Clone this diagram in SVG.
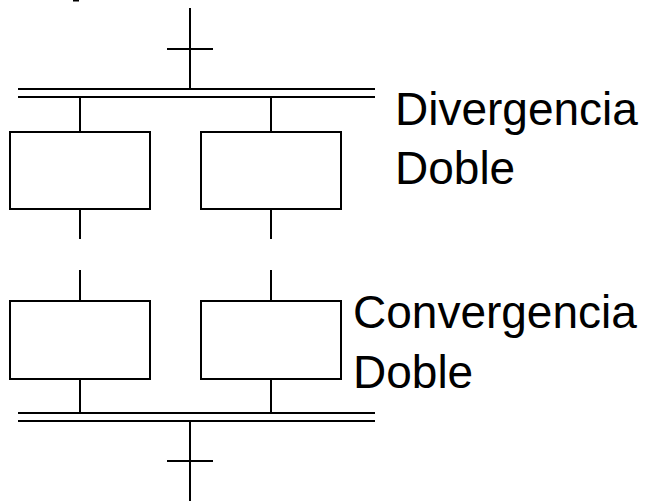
<svg xmlns="http://www.w3.org/2000/svg" width="647" height="501" viewBox="0 0 647 501">
  <style>
    .ln { stroke: #000; stroke-width: 2; fill: none; }
    .step { stroke: #000; stroke-width: 2; fill: #fff; }
    .lbl { font-family: "Liberation Sans", Arial, sans-serif; font-size: 46px; fill: #000; }
  </style>
  <rect width="647" height="501" fill="#fff"/>
  <rect x="73" y="0" width="6" height="1.5" fill="#000"/>

  <g id="connectors">
    <!-- incoming link with transition -->
    <line class="ln" x1="190" y1="8" x2="190" y2="89"/>
    <line class="ln" x1="167" y1="49" x2="213" y2="49"/>
    <!-- double divergence bar -->
    <line class="ln" x1="18" y1="89" x2="375" y2="89"/>
    <line class="ln" x1="18" y1="97" x2="375" y2="97"/>
    <line class="ln" x1="80" y1="97" x2="80" y2="132"/>
    <line class="ln" x1="271" y1="97" x2="271" y2="132"/>
    <!-- stubs between step rows -->
    <line class="ln" x1="80" y1="209" x2="80" y2="239"/>
    <line class="ln" x1="271" y1="209" x2="271" y2="239"/>
    <line class="ln" x1="80" y1="270" x2="80" y2="301"/>
    <line class="ln" x1="271" y1="270" x2="271" y2="301"/>
    <!-- double convergence bar -->
    <line class="ln" x1="80" y1="379" x2="80" y2="413"/>
    <line class="ln" x1="271" y1="379" x2="271" y2="413"/>
    <line class="ln" x1="18" y1="413" x2="375" y2="413"/>
    <line class="ln" x1="18" y1="421" x2="375" y2="421"/>
    <!-- outgoing link with transition -->
    <line class="ln" x1="190" y1="421" x2="190" y2="501"/>
    <line class="ln" x1="167" y1="461" x2="213" y2="461"/>
  </g>

  <g id="step-a1"><rect class="step" x="10" y="132" width="140" height="77"/></g>
  <g id="step-b1"><rect class="step" x="201" y="132" width="140" height="77"/></g>
  <g id="step-a2"><rect class="step" x="10" y="301" width="140" height="78"/></g>
  <g id="step-b2"><rect class="step" x="201" y="301" width="140" height="78"/></g>

  <g id="label-divergence">
    <text class="lbl" x="395" y="125">Divergencia</text>
    <text class="lbl" x="395" y="184">Doble</text>
  </g>
  <g id="label-convergence">
    <text class="lbl" x="353" y="328">Convergencia</text>
    <text class="lbl" x="353" y="388">Doble</text>
  </g>
</svg>
